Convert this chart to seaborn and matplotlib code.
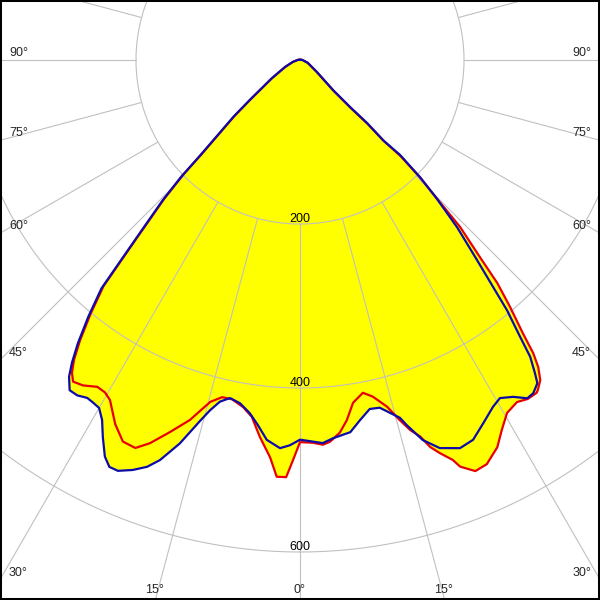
import numpy as np
import pandas as pd
import matplotlib
matplotlib.use("Agg")
import matplotlib.pyplot as plt
from matplotlib.patches import Rectangle
import seaborn as sns

# ---------------- data (gamma in degrees, luminous intensity) ----------------
# C90-C270 plane (blue)
blue_angles = [-180, -120, -90, -75, -65, -57, -51.5, -49.5, -47.5, -46.3, -45.5,
               -44.4, -42.8, -41.9, -41.0, -39.5, -38.1, -37.0, -36.1, -34.9,
               -33.6, -32.2, -31.2, -30.0, -28.8, -27.6, -26.2, -25.1, -23.9,
               -22.2, -20.6, -19.3, -17.4, -15.5, -14.4, -13.2, -11.7, -9.9,
               -8.1, -6.6, -5.0, -2.95, -1.5, 0, 1.5, 3.4, 5.0, 7.7, 9.5, 11.3,
               12.9, 14.3, 15.6, 16.3, 17.9, 19.8, 22.4, 24.5, 26.8, 29.1, 30.6,
               32.3, 33.9, 35.0, 36.3, 36.9, 37.8, 38.5, 39.6, 40.4, 41.5, 43.2,
               44.6, 45.7, 46.5, 46.0, 46.8, 46.8, 47.7, 54.8, 70, 90, 120, 180]
blue_values = [0, 1, 3, 9, 20, 41, 78, 107, 138, 168, 203,
               239, 287, 323, 369, 406, 439, 462, 478, 491,
               491, 487, 488, 490, 501, 519, 539, 548, 548,
               540, 530, 517, 490, 457, 441, 428, 421, 425,
               435, 448, 465, 474, 470, 463, 465, 468, 463, 458, 445, 434,
               435, 444, 453, 464, 487, 503, 512, 509, 496, 484, 479,
               486, 497, 496, 489, 477, 458, 431, 396, 363, 326, 280,
               238, 204, 168, 141, 112, 84, 54, 25, 10, 3, 1, 0]

# C0-C180 plane (red)
red_angles = [-180, -120, -90, -75, -65, -57, -51.5, -49.5, -47.5, -46.3, -45.5,
              -44.4, -42.8, -41.9, -41.0, -39.5, -38.1, -37.0, -36.1, -35.2,
              -33.7, -31.8, -30.4, -29.2, -26.9, -24.9, -23.0, -21.4, -19.3,
              -17.0, -15.9, -14.7, -13.0, -11.3, -9.3, -7.7, -6.1, -4.3, -3.2,
              -1.9, -1.0, 0, 1.9, 3.4, 4.5, 6.1, 7.4, 8.8, 10.7, 12.2, 14.1,
              15.5, 16.6, 17.7, 18.6, 19.6, 20.9, 21.5, 23.1, 24.8, 27.0, 28.6,
              30.4, 32.4, 33.9, 35.4, 35.8, 36.9, 37.8, 38.5, 39.2, 40.4, 41.5,
              42.4, 43.8, 44.6, 45.6, 46.3, 46.0, 46.6, 46.6, 47.5, 54, 70, 90,
              120, 180]
red_values = [0, 1, 3, 9, 20, 41, 77, 105, 136, 165, 200,
              236, 284, 320, 365, 402, 435, 458, 472, 480,
              477, 469, 470, 475, 498, 513, 514, 502, 481,
              459, 445, 431, 422, 422, 429, 439, 462, 486, 509,
              509, 488, 466, 467, 470, 467, 457, 443, 423, 413, 420, 436,
              456, 471, 482, 498, 509, 522, 533, 545, 543, 530, 514,
              499, 494, 498, 498, 496, 488, 474, 457, 430, 395, 363,
              325, 282, 240, 206, 170, 143, 114, 86, 56, 26, 10, 3,
              1, 0]

grid_radii = [200, 400, 600]
radius_labels = ["200", "400", "600"]
spoke_angles = list(range(-180, 180, 15))
edge_label_angles = [-90, -75, -60, -45, -30, -15, 0, 15, 30, 45, 60, 75, 90]

# ---------------- figure ----------------
sns.set_style("white")
plt.rcParams["font.family"] = ["Liberation Sans", "DejaVu Sans"]

W = H = 600
fig = plt.figure(figsize=(6, 6), dpi=100)
R_MAX = 800
px_per_unit = 0.82
rad_px = R_MAX * px_per_unit
cx, cy = 300, 60  # center in pixels from top-left
w = 2 * rad_px / W
ax = fig.add_axes([cx / W - w / 2, 1 - cy / H - w / 2, w, w], projection="polar")
ax.set_theta_zero_location("S")
ax.set_theta_direction(1)
ax.set_ylim(0, R_MAX)
ax.grid(False)
ax.set_xticks([])
ax.set_yticks([])
ax.spines["polar"].set_visible(False)
ax.patch.set_facecolor("white")

df = pd.concat([
    pd.DataFrame({"theta": np.deg2rad(red_angles), "value": red_values, "plane": "C0-C180"}),
    pd.DataFrame({"theta": np.deg2rad(blue_angles), "value": blue_values, "plane": "C90-C270"}),
], ignore_index=True)

# yellow fills
for name, g in df.groupby("plane", sort=False):
    ax.fill(g["theta"], g["value"], color="#ffff00", lw=0, zorder=1)

# grid
grid_col = "#c0c0c0"
tt = np.linspace(0, 2 * np.pi, 1441)
for r in grid_radii:
    ax.plot(tt, np.full_like(tt, r), color=grid_col, lw=0.8, zorder=2)
for a in spoke_angles:
    ax.plot([np.deg2rad(a)] * 2, [grid_radii[0], R_MAX], color=grid_col, lw=0.8, zorder=2)

# curves
sns.lineplot(data=df, x="theta", y="value", hue="plane", estimator=None, sort=False,
             palette={"C0-C180": "#e80000", "C90-C270": "#0c0ca8"}, lw=1.6,
             legend=False, ax=ax, zorder=3)
ax.set_xlabel("")
ax.set_ylabel("")
ax.set_ylim(0, R_MAX)
ax.set_xticks([])
ax.set_yticks([])
ax.grid(False)

# radius labels
for r, lab in zip(grid_radii, radius_labels):
    ax.annotate(lab, xy=(0, r), xytext=(0, 2), textcoords="offset pixels",
                ha="center", va="baseline", fontsize=9, color="black", zorder=4)

# angle labels at the frame edge
fig.canvas.draw()
c_disp = ax.transData.transform((0, 0))
for a in edge_label_angles:
    g = np.deg2rad(a)
    dx, dy = np.sin(g), -np.cos(g)
    ts = []
    if dx < -1e-9:
        ts.append(("L", (0 - c_disp[0]) / dx))
    if dx > 1e-9:
        ts.append(("R", (W - c_disp[0]) / dx))
    if dy < -1e-9:
        ts.append(("B", (0 - c_disp[1]) / dy))
    side, t = min(ts, key=lambda s: s[1])
    hx, hy = c_disp[0] + t * dx, c_disp[1] + t * dy
    lab = f"{abs(a)}°"
    if side == "L":
        fig.text(9 / W, (hy + 4) / H, lab, ha="left", va="baseline", fontsize=9)
    elif side == "R":
        fig.text((W - 9) / W, (hy + 4) / H, lab, ha="right", va="baseline", fontsize=9)
    else:
        fig.text((hx - 1) / W, 7 / H, lab, ha="center", va="baseline", fontsize=9)

fig.add_artist(Rectangle((0, 0), 1, 1, transform=fig.transFigure, fill=False,
                         edgecolor="black", lw=2.9))
fig.savefig("out.png", dpi=100)
